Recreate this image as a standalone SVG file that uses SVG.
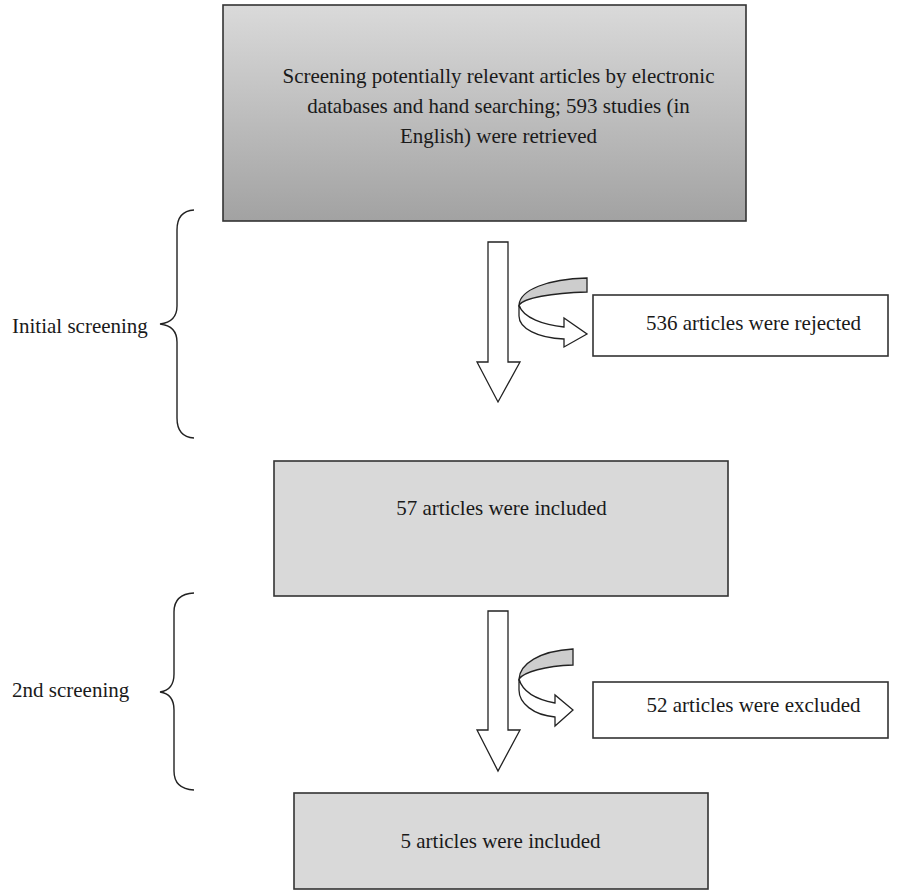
<svg xmlns="http://www.w3.org/2000/svg" width="901" height="890" viewBox="0 0 901 890">
<defs>
<linearGradient id="g1" x1="0" y1="0" x2="0" y2="1">
<stop offset="0" stop-color="#dadada"/>
<stop offset="1" stop-color="#a2a2a2"/>
</linearGradient>
<style>
.box{stroke:#333;stroke-width:1.6}
.t{font-family:"Liberation Serif","Times New Roman",serif;font-size:21px;fill:#1a1a1a;text-anchor:middle}
.l{font-family:"Liberation Serif","Times New Roman",serif;font-size:21px;fill:#1a1a1a}
.arr{fill:#fff;stroke:#222;stroke-width:1.3;stroke-linejoin:miter}
.back{fill:#cdcdcd;stroke:#222;stroke-width:1.3}
.brace{fill:none;stroke:#222;stroke-width:1.4}
</style>
</defs>
<rect width="901" height="890" fill="#fff"/>

<g id="node-retrieved">
<rect class="box" x="223" y="5" width="523" height="216" fill="url(#g1)"/>
<text class="t" x="498.5" y="83">Screening potentially relevant articles by electronic</text>
<text class="t" x="498.5" y="113">databases and hand searching; 593 studies (in</text>
<text class="t" x="498.5" y="143">English) were retrieved</text>
</g>

<g id="node-rejected">
<rect class="box" x="593" y="295" width="295" height="61" fill="#fff"/>
<text class="t" x="753.5" y="330">536 articles were rejected</text>
</g>

<g id="node-included57">
<rect class="box" x="274" y="461" width="454" height="135" fill="#d9d9d9"/>
<text class="t" x="501.5" y="515">57 articles were included</text>
</g>

<g id="node-excluded">
<rect class="box" x="593" y="682" width="295" height="56" fill="#fff"/>
<text class="t" x="753.5" y="712">52 articles were excluded</text>
</g>

<g id="node-included5">
<rect class="box" x="294" y="793" width="414" height="96" fill="#d9d9d9"/>
<text class="t" x="500.5" y="848">5 articles were included</text>
</g>

<g id="label-initial">
<path class="brace" d="M194,210 Q177,211 177,230 L177,306 Q177,322 160,324 Q177,326 177,342 L177,418 Q177,437 194,438"/>
<text class="l" x="12" y="333">Initial screening</text>
</g>

<g id="label-second">
<path class="brace" d="M194,593 Q174,594 174,612 L174,674 Q174,690 160,692 Q174,694 174,710 L174,771 Q174,789 194,790"/>
<text class="l" x="12" y="697">2nd screening</text>
</g>

<g id="connectors">
<path class="arr" d="M488,242 L508,242 L508,362 L520,362 L498,402 L477,362 L488,362 Z"/>
<path class="back" d="M587,278 C547,279 520,290 519,305 C524,298 551,293 587,292 Z"/>
<path class="arr" d="M519,305 C523,318 544,325 564,327 L564,318 L587,334 L564,347 L564,339 C537,338 519,328 519,316 Z"/>

<path class="arr" d="M488,611 L508,611 L508,730 L520,730 L498,771 L477,730 L488,730 Z"/>
<path class="back" d="M573,649 C539,651 520,664 519,679 C524,672 545,666 573,665 Z"/>
<path class="arr" d="M519,679 C523,693 539,700 555,703 L555,695 L573,710 L555,726 L555,717 C533,715 519,703 519,690 Z"/>
</g>
</svg>
